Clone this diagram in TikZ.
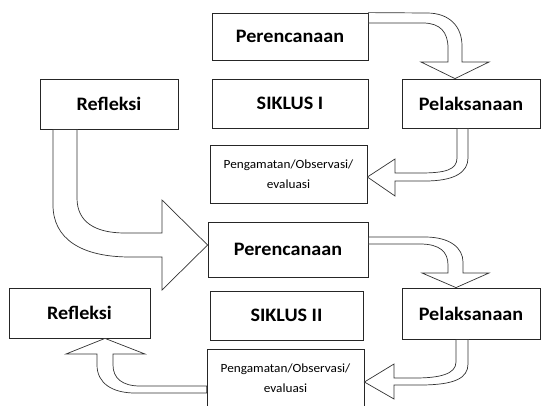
\documentclass[tikz,border=0pt]{standalone}
\usepackage{fontspec}
\setmainfont{Carlito}[FakeStretch=1.06]

\tikzset{
  kotak/.style={draw=black!85, line width=0.8pt, fill=white, inner sep=0pt,
    font=\bfseries\fontsize{19}{20}\selectfont},
  kecil/.style={draw=black!85, line width=0.8pt, fill=white, inner sep=0pt,
    align=center, font=\fontsize{12.5}{20.5}\selectfont},
  panah/.style={draw=black!80, line width=0.7pt, fill=white, line join=miter}
}

\begin{document}
\begin{tikzpicture}[x=1pt, y=-1pt]
\useasboundingbox (0,0) rectangle (541,405);
\clip (0,0) rectangle (541,405);

% siklus I
\node (per1) at (290,36.5)  [kotak, minimum width=156pt, minimum height=47pt] {Perencanaan};
\node (sik1) at (290,103.5) [kotak, minimum width=156pt, minimum height=49pt] {SIKLUS I};
\node (pel1) at (471,103.5) [kotak, minimum width=138pt, minimum height=49pt] {Pelaksanaan};
\node (pen1) at (288.5,174) [kecil, minimum width=157pt, minimum height=58pt] {Pengamatan/Observasi/\\evaluasi};
\node (ref1) at (109,104)   [kotak, minimum width=138pt, minimum height=50pt] {Refleksi};

% siklus II
\node (per2) at (288,249.5) [kotak, minimum width=160pt, minimum height=55pt] {Perencanaan};
\node (sik2) at (286.5,315.5) [kotak, minimum width=153pt, minimum height=49pt] {SIKLUS II};
\node (pel2) at (471,313.5) [kotak, minimum width=138pt, minimum height=51pt] {Pelaksanaan};
\node (pen2) at (285.5,378) [kecil, minimum width=157pt, minimum height=58pt] {Pengamatan/Observasi/\\evaluasi};
\node (ref2) at (79.5,313)  [kotak, minimum width=141pt, minimum height=50pt] {Refleksi};

\draw [panah] (per1.north east) -- (427,13) .. controls (449,13) and (462,26) .. (462,46)
  -- (462,62) -- (489,62) -- (pel1.north -| 455,0) -- (421,62) -- (448,62) -- (448,48)
  .. controls (448,32) and (440,23) .. (423,23) -- (per1.east |- 0,23) -- cycle ;

\draw [panah] (pel1.south -| 457,0) -- (457,158) .. controls (457,170) and (445,173) .. (420,173)
  -- (395,173) -- (395,159) -- (pen1.east |- 0,177) -- (395,196) -- (395,181) -- (425,181)
  .. controls (455,181) and (468,172) .. (468,158) -- (pel1.south -| 468,0) -- cycle ;

\draw [panah] (ref1.south -| 77,0) -- (77,198) .. controls (77,222) and (95,233) .. (125,233)
  -- (162,233) -- (162,200) -- (per2.west |- 0,245) -- (162,290) -- (162,257) -- (130,257)
  .. controls (80,257) and (53,238) .. (53,205) -- (ref1.south -| 53,0) -- cycle ;

\draw [panah] (per2.east |- 0,237) -- (425,237) .. controls (450,237) and (463,248) .. (463,262)
  -- (463,273) -- (489,273) -- (pel2.north -| 456,0) -- (422,273) -- (448,273) -- (448,265)
  .. controls (448,252) and (440,244) .. (420,244) -- (per2.east |- 0,244) -- cycle ;

\draw [panah] (pel2.south -| 456,0) -- (456,362) .. controls (456,374) and (440,378) .. (415,378)
  -- (394,378) -- (394,364) -- (pen2.east |- 0,382) -- (394,399) -- (394,385) -- (420,385)
  .. controls (455,385) and (468,378) .. (468,364) -- (pel2.south -| 468,0) -- cycle ;

\draw [panah] (pen2.west |- 0,386) -- (140,386) .. controls (122,386) and (113,378) .. (113,365)
  -- (113,354) -- (145,354) -- (ref2.south -| 105,0) -- (66,354) -- (97,354) -- (97,365)
  .. controls (97,383) and (112,393) .. (135,393) -- (pen2.west |- 0,393) -- cycle ;

\end{tikzpicture}
\end{document}
